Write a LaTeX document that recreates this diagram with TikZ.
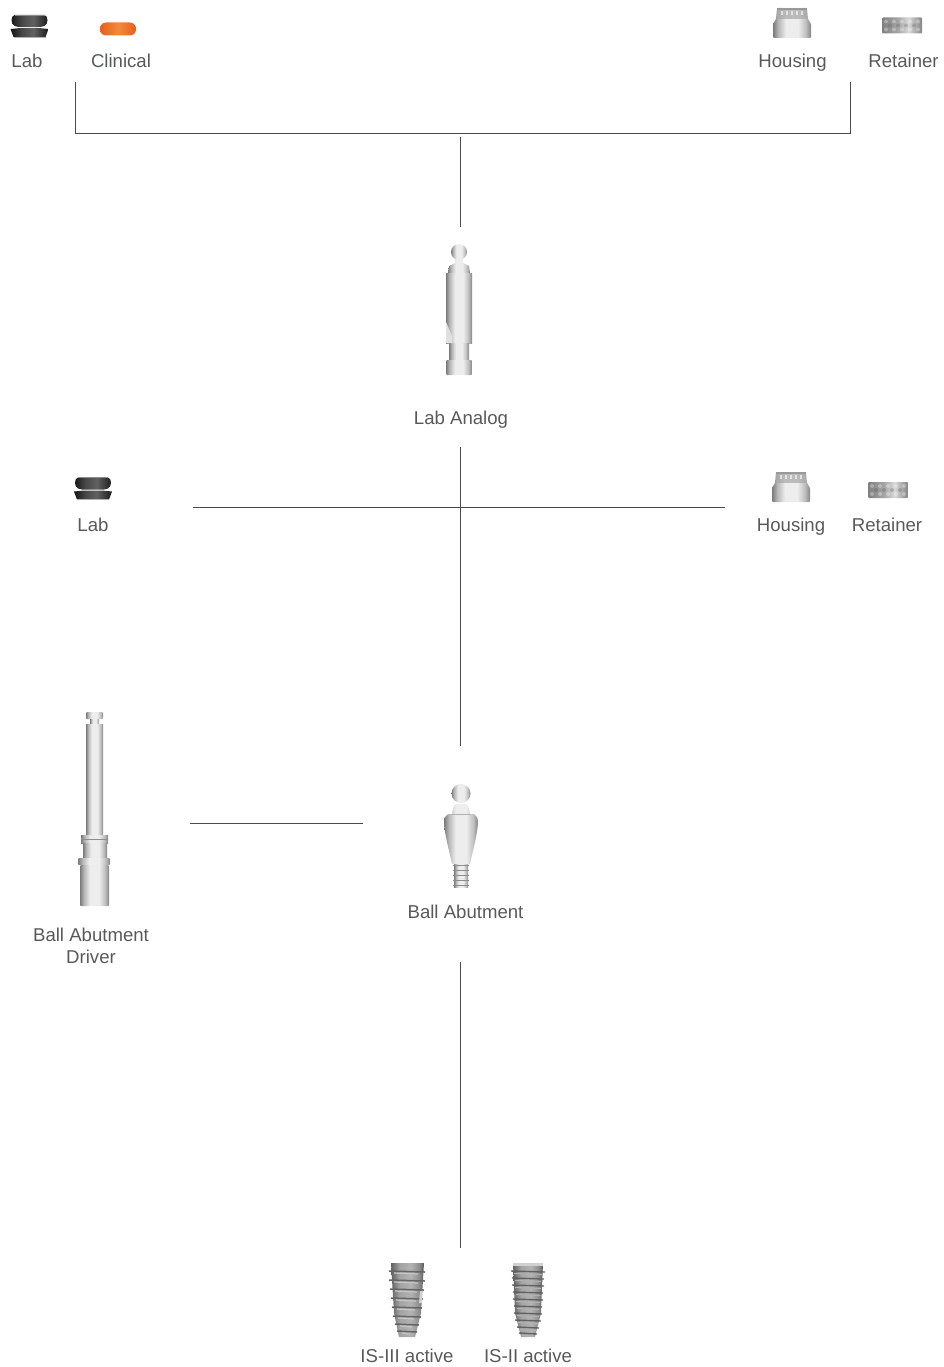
\documentclass[tikz,border=0pt]{standalone}
\usepackage{fontspec}
\setmainfont{Liberation Sans}
\usetikzlibrary{positioning,calc}
\definecolor{labelgray}{HTML}{58595B}
\definecolor{linegray}{HTML}{4A4A4A}
\definecolor{capedge}{HTML}{E8601C}
\definecolor{capmid}{HTML}{F08A3A}
\pgfdeclarehorizontalshading{metalshade}{100bp}{color(0bp)=(black!52); color(25bp)=(black!52); color(32bp)=(black!28); color(42bp)=(black!7); color(58bp)=(black!7); color(68bp)=(black!25); color(75bp)=(black!48); color(100bp)=(black!48)}
\pgfdeclarehorizontalshading{darkshade}{100bp}{color(0bp)=(black!62); color(25bp)=(black!62); color(38bp)=(black!36); color(55bp)=(black!30); color(68bp)=(black!45); color(75bp)=(black!66); color(100bp)=(black!66)}
\pgfdeclarehorizontalshading{rubbershade}{100bp}{color(0bp)=(black!92); color(25bp)=(black!92); color(40bp)=(black!72); color(55bp)=(black!62); color(75bp)=(black!90); color(100bp)=(black!90)}
\pgfdeclarehorizontalshading{orangeshade}{100bp}{color(0bp)=(capedge); color(25bp)=(capedge); color(50bp)=(capmid); color(75bp)=(capedge); color(100bp)=(capedge)}
\pgfdeclarehorizontalshading{knurlshade}{100bp}{color(0bp)=(black!50); color(25bp)=(black!50); color(45bp)=(black!35); color(58bp)=(black!15); color(75bp)=(black!48); color(100bp)=(black!48)}
\tikzset{
  partlabel/.style={anchor=base,inner sep=0pt,text=labelgray,font=\fontsize{18.6}{22}\selectfont,align=center},
  link/.style={draw=linegray,line width=0.9pt},
  metal/.style={shading=metalshade},
  darkmetal/.style={shading=darkshade},
  rubber/.style={shading=rubbershade},
  labcap/.pic={
    \path[rubber] (-15,0) .. controls (-19,1) and (-19,9) .. (-15,11) -- (-11,12) -- (11,12) -- (15,11) .. controls (19,9) and (19,1) .. (15,0) -- cycle;
    \path[rubber] (-19,14) -- (-9,13) -- (9,13) -- (19,14) -- (16,22) -- (-16,22) -- cycle;
    \draw[black!45,line width=.6pt] (-15,0) -- (15,0);
    \draw[black!30,line width=.6pt] (-16,22) -- (16,22);
  },
  clinicalcap/.pic={
    \path[shading=orangeshade,rounded corners=6pt] (-18,-6.5) rectangle (18,6.5);
  },
  housing/.pic={
    \path[metal,rounded corners=1pt] (-15,0) -- (15,0) -- (16,11) -- (19,16) -- (19,30) -- (-19,30) -- (-19,16) -- (-16,11) -- cycle;
    \fill[black!40] (-15,0) rectangle (15,2);
    \fill[black!35,opacity=.7] (-15,2) rectangle (15,11);
    \foreach \tx in {-10,-5,0,5,10} \fill[white,opacity=.6] (\tx-1,3) rectangle (\tx+1,7);
  },
  retainer/.pic={
    \path[shading=knurlshade,rounded corners=1pt] (-20,-8) rectangle (20,8);
    \foreach \rx in {-16,-8,...,16} \foreach \ry in {-4,4} \fill[white,opacity=.3] (\rx,\ry) circle (2);
    \foreach \rx in {-12,-4,...,12} \fill[black!70,opacity=.25] (\rx,0) circle (2);
  },
  labanalog/.pic={
    \path[metal] (-4,6) -- (4,6) -- (4,11) -- (10,14) -- (11,21) -- (-11,21) -- (-10,14) -- (-4,11) -- cycle;
    \path[metal] (0,0) circle (8);
    \path[metal] (-13,21) rectangle (13,91);
    \path[metal] (-10,91) rectangle (10,108);
    \path[metal,rounded corners=1pt] (-13,108) rectangle (13,123);
    \fill[black!12] (-13,70) -- (-7,84) -- (-7,91) -- (-13,91) -- cycle;
  },
  driver/.pic={
    \path[metal,rounded corners=1pt] (-8,0) rectangle (9,7);
    \path[metal] (-4,7) rectangle (5,12);
    \path[metal] (-8,12) rectangle (9,123);
    \path[metal] (-13,123) rectangle (14,131);
    \draw[black!45] (-13,127) -- (14,127);
    \path[metal] (-11,131) rectangle (13,146);
    \path[metal,rounded corners=1pt] (-16,146) rectangle (16,153);
    \path[metal,rounded corners=1pt] (-14,153) rectangle (15,194);
  },
  ballabutment/.pic={
    \path[metal] (-7,76) rectangle (7,101);
    \foreach \ty in {79,84,...,99} \draw[black!45,line width=1pt] (-8,\ty) -- (8,\ty);
    \path[metal] (-9,78) .. controls (-13,60) and (-17,45) .. (-17,35) -- (-16,31) -- (-13,28) -- (-9,28) -- (-8,23) -- (-6,18) -- (6,18) -- (8,23) -- (9,28) -- (13,28) -- (16,31) -- (17,35) .. controls (17,45) and (13,60) .. (9,78) -- cycle;
    \path[metal] (0,7.5) circle (9.5);
    \draw[black!30] (-10,28) -- (10,28);
  },
  implantthree/.pic={
    \path[darkmetal] (-16,0) -- (17,0) -- (14,50) -- (8,74) -- (-8,74) -- (-13,50) -- cycle;
    \foreach \ty/\tw in {8/18,17/18,26/17,35/16,44/15,53/14,61/12,68/10} {
      \draw[black!60,line width=1.5pt] (-\tw,\ty) -- (\tw,\ty+1);
      \draw[black!22,line width=1.2pt] (-\tw+5,\ty+2) -- (\tw-7,\ty+3);
    }
    \fill[black!18] (13,28) -- (15,28) -- (15,40) -- (12,40) -- cycle;
  },
  implanttwo/.pic={
    \path[darkmetal] (-15,0) -- (15,0) -- (13,50) -- (7,74) -- (-7,74) -- (-13,50) -- cycle;
    \fill[black!18] (-15,0) rectangle (15,3);
    \foreach \ty/\tw in {8/17,15/16,22/16,29/15,36/15,43/14,50/14,57/13,64/11,70/9} {
      \draw[black!62,line width=1.4pt] (-\tw,\ty) -- (\tw,\ty+1);
      \draw[black!30,line width=1pt] (-\tw+3,\ty+2.5) -- (\tw-3,\ty+3.5);
    }
  }
}
\begin{document}
\begin{tikzpicture}[x=1pt,y=-1pt]
  \useasboundingbox (0,0) rectangle (943,1367);
  % top row
  \pic at (29.5,15) {labcap};
  \pic at (118,29) {clinicalcap};
  \pic at (792,8) {housing};
  \pic at (902,25.5) {retainer};
  \node[partlabel] (labtop) at (27,68) {Lab};
  \node[partlabel] (clinical) at (121,68) {Clinical};
  \node[partlabel] (housingtop) at (792.5,68) {Housing};
  \node[partlabel] (retainertop) at (903.5,68) {Retainer};
  % bracket
  \coordinate (bracketL) at (75,82);
  \coordinate (bracketR) at (850,82);
  \coordinate (bracketM) at (460.5,133.6);
  \draw[link] (bracketL) |- (bracketM) -| (bracketR);
  \coordinate (analogin) at (460.5,137);
  \coordinate (analoginb) at (460.5,227);
  \draw[link] (analogin) -- (analoginb);
  % lab analog
  \pic at (459,252) {labanalog};
  \node[partlabel] (labanalog) at (461,424) {Lab Analog};
  % second row
  \pic at (93,477.5) {labcap};
  \pic at (791,472) {housing};
  \pic at (888,490) {retainer};
  \node[partlabel] (labmid) at (93,531) {Lab};
  \node[partlabel] (housingmid) at (791,531) {Housing};
  \node[partlabel] (retainermid) at (887,531) {Retainer};
  \coordinate (crossT) at (460.5,447);
  \coordinate (crossB) at (460.5,746);
  \coordinate (crossL) at (193,507);
  \coordinate (crossR) at (725,507);
  \draw[link] (crossT) -- (crossB);
  \draw[link] (crossL) -- (crossR);
  % driver and ball abutment
  \pic at (94,712) {driver};
  \node[partlabel] (driverlabel) at (91,963) {Ball Abutment\\Driver};
  \coordinate (driverR) at (190,823.5);
  \coordinate (abutL) at (363,823.5);
  \draw[link] (driverR) -- (abutL);
  \pic at (461,786) {ballabutment};
  \node[partlabel] (abutlabel) at (465.5,918) {Ball Abutment};
  \coordinate (implT) at (460.5,962);
  \coordinate (implB) at (460.5,1248);
  \draw[link] (implT) -- (implB);
  % implants
  \pic at (407,1263) {implantthree};
  \pic at (528,1263) {implanttwo};
  \node[partlabel] (isthree) at (407,1362) {IS-III active};
  \node[partlabel] (istwo) at (528,1362) {IS-II active};
\end{tikzpicture}
\end{document}
